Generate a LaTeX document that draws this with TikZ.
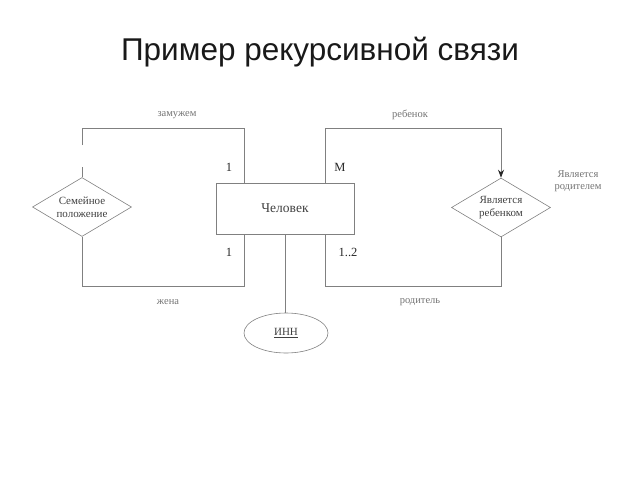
\documentclass[tikz,border=0pt]{standalone}
\usepackage{fontspec}
\setmainfont{Liberation Serif}
\newfontfamily\titlefont{Liberation Sans}
\usetikzlibrary{shapes.geometric,arrows.meta}
\definecolor{linec}{gray}{0.5}
\definecolor{textc}{gray}{0.25}
\definecolor{faintc}{gray}{0.45}
\tikzset{
  conn/.style={draw=linec, line width=0.8pt},
  entity/.style={draw=linec, line width=0.8pt, rectangle, minimum width=138pt, minimum height=51pt, inner sep=0pt, font=\fontsize{13.5}{15}\selectfont, text=textc},
  rel/.style={draw=linec, line width=0.6pt, diamond, aspect=1.6, minimum width=99pt, minimum height=59pt, inner sep=0pt, align=center, font=\fontsize{11}{13}\selectfont, text=textc},
  attr/.style={draw=linec, line width=0.6pt, ellipse, minimum width=84pt, minimum height=40pt, inner sep=0pt, font=\fontsize{11}{13}\selectfont, text=textc},
  card/.style={font=\fontsize{12.5}{14}\selectfont, text=black!85},
  role/.style={font=\fontsize{10.5}{12}\selectfont, text=faintc},
}
\begin{document}
\begin{tikzpicture}[x=1pt,y=-1pt]
\useasboundingbox (0,0) rectangle (640,480);
\node[font=\titlefont\fontsize{31.5}{36}\selectfont, text=black!90, anchor=base] (title) at (320,60) {Пример рекурсивной связи};

\node[entity] (chel) at (285,208.5) {Человек};
\node[rel] (sem) at (82,207) {Семейное\\положение};
\node[rel] (reb) at (501,207.5) {Является\\ребенком};
\node[attr] (inn) at (286,333) {\underline{ИНН}};

% corner coordinates
\coordinate (tl1) at (82,128);
\coordinate (tl2) at (244,128);
\coordinate (bl1) at (82,286);
\coordinate (bl2) at (244,286);
\coordinate (tr1) at (325,128);
\coordinate (tr2) at (501,128);
\coordinate (br1) at (325,286);
\coordinate (br2) at (501,286);

% left loop
\draw[conn, dash pattern=on 10pt off 22pt on 2000pt] (sem.north) -- (tl1) -- (tl2) -- (tl2 |- chel.north);
\draw[conn] (sem.south) -- (bl1) -- (bl2) -- (bl2 |- chel.south);
% right loop
\draw[conn, -{Stealth[length=8pt,width=6pt,color=black!85,fill=black!85]}] (tr1 |- chel.north) -- (tr1) -- (tr2) -- (reb.north);
\draw[conn] (reb.south) -- (br2) -- (br1) -- (br1 |- chel.south);
% attribute
\draw[conn] (chel.south) -- (chel.south |- inn.north);

% cardinalities
\node[card] (c1) at (229,167) {1};
\node[card] (cM) at (340,167) {M};
\node[card] (c2) at (229,252) {1};
\node[card] (c3) at (348,252) {1..2};

% role names
\node[role] (r1) at (177,115) {замужем};
\node[role] (r2) at (410,115) {ребенок};
\node[role] (r3) at (168,302) {жена};
\node[role] (r4) at (420,302) {родитель};
\node[role, align=center] (r5) at (578,181) {Является\\родителем};
\end{tikzpicture}
\end{document}
